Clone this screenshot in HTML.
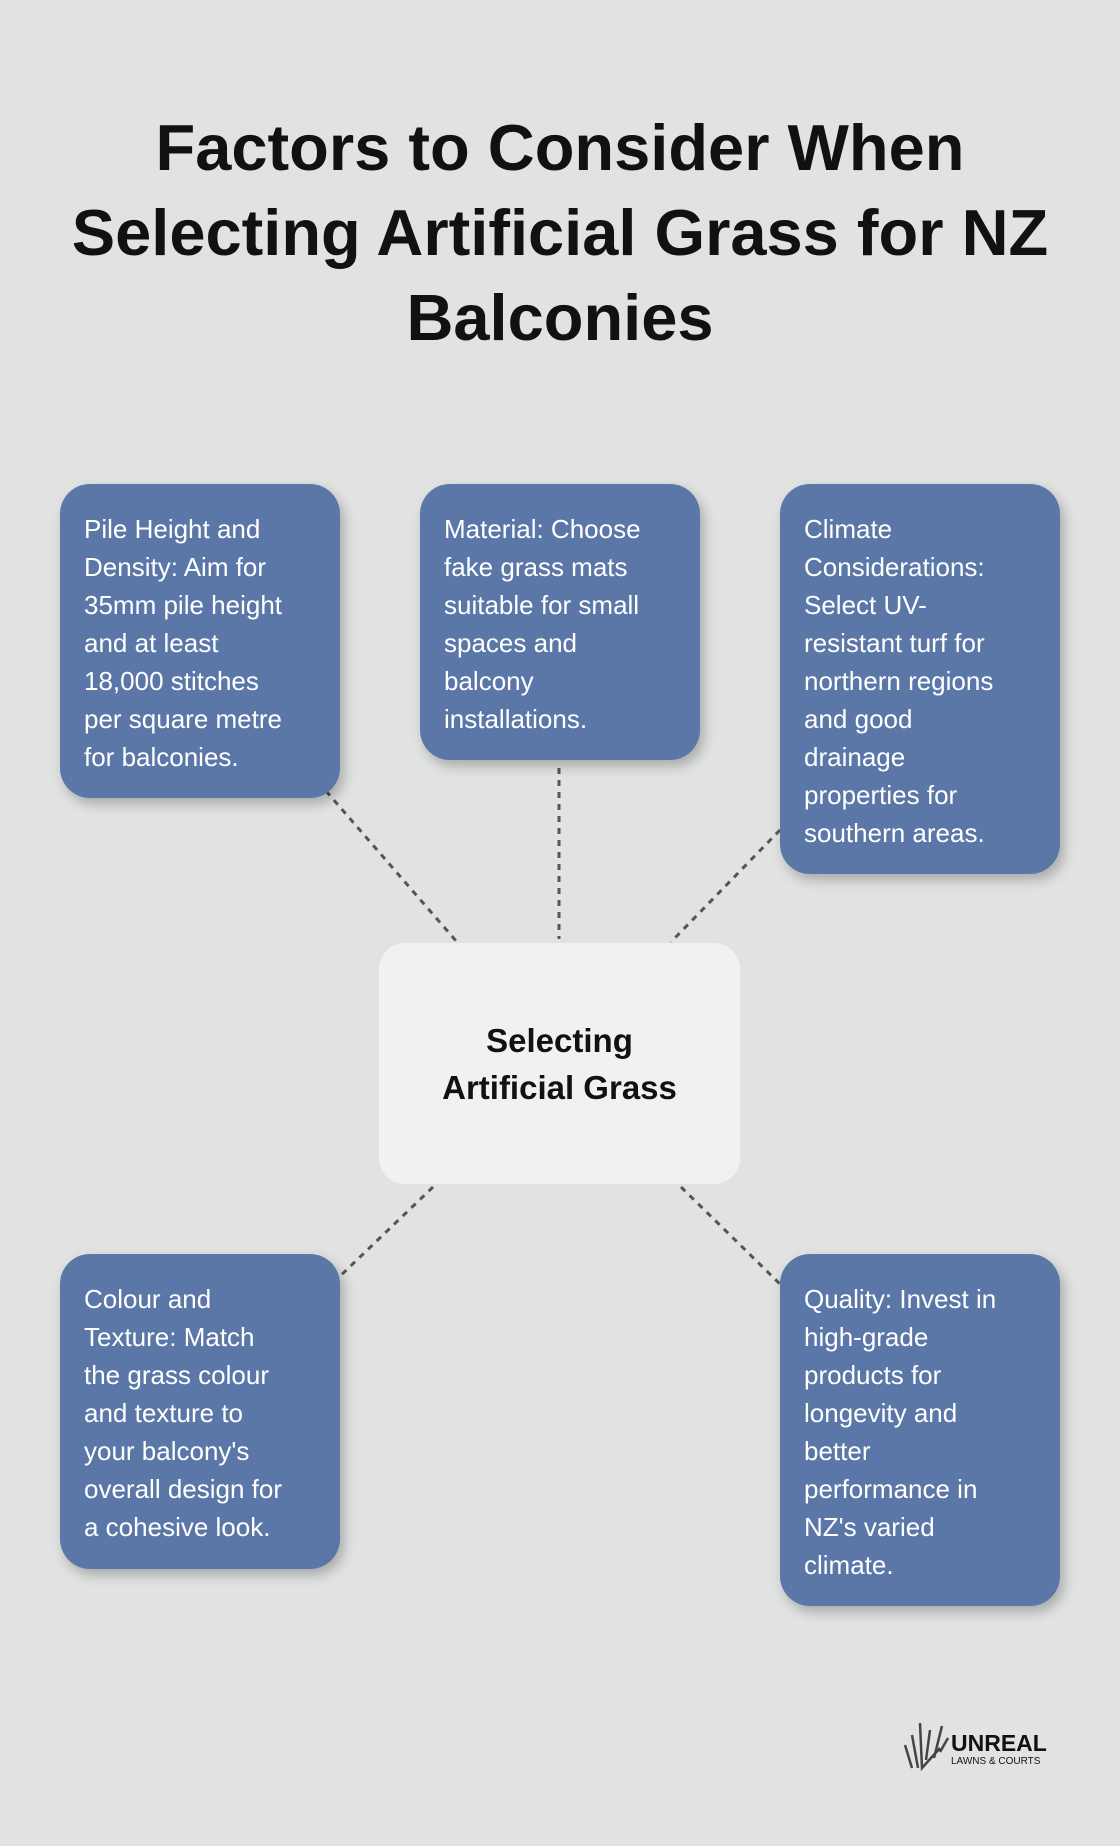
<!DOCTYPE html>
<html><head><meta charset="utf-8"><style>
body{margin:0;width:1120px;height:1846px;background:#e1e3e2;position:relative;overflow:hidden;font-family:"Liberation Sans",sans-serif}
.t{position:absolute;left:0;width:1120px;top:105px;text-align:center;font-weight:bold;font-size:65px;line-height:85px;color:#111}
.b{position:absolute;background:#5b77a8;border-radius:30px;color:#fff;font-size:26px;line-height:38px;padding:26px 0 0 24px;box-sizing:border-box;box-shadow:4px 6px 12px rgba(0,0,0,.25);width:280px}
.c{position:absolute;left:379px;top:943px;width:361px;height:241px;background:#f0f1f0;border-radius:26px;text-align:center;font-weight:bold;font-size:33px;line-height:47px;color:#111;box-sizing:border-box;padding-top:74px}
</style></head><body>
<div class="t">Factors to Consider When<br>Selecting Artificial Grass for NZ<br>Balconies</div>
<svg style="position:absolute;left:0;top:0" width="1120" height="1846"><g stroke="#555" stroke-width="3" stroke-dasharray="6,6">
<line x1="326" y1="791" x2="457" y2="942"/><line x1="559" y1="768" x2="559" y2="939"/><line x1="780" y1="830" x2="671" y2="942"/><line x1="433" y1="1187" x2="336" y2="1280"/><line x1="681" y1="1187" x2="780" y2="1284"/></g>
<g stroke="#444" stroke-width="2.5" fill="none"><path d="M905 1745 L912 1768"/><path d="M912 1735 L918 1768"/><path d="M920 1723 L922 1768 L940 1748"/><path d="M930 1730 L926 1760"/><path d="M942 1726 L934 1758"/><path d="M948 1738 L940 1752"/></g>
<text x="951" y="1751" font-family="Liberation Sans" font-weight="bold" font-size="23" fill="#111">UNREAL</text>
<text x="951" y="1764" font-family="Liberation Sans" font-size="10" fill="#111">LAWNS &amp; COURTS</text></svg>
<div class="b" style="left:60px;top:484px;height:314px">Pile Height and<br>Density: Aim for<br>35mm pile height<br>and at least<br>18,000 stitches<br>per square metre<br>for balconies.</div>
<div class="b" style="left:420px;top:484px;height:276px">Material: Choose<br>fake grass mats<br>suitable for small<br>spaces and<br>balcony<br>installations.</div>
<div class="b" style="left:780px;top:484px;height:390px">Climate<br>Considerations:<br>Select UV-<br>resistant turf for<br>northern regions<br>and good<br>drainage<br>properties for<br>southern areas.</div>
<div class="c">Selecting<br>Artificial Grass</div>
<div class="b" style="left:60px;top:1254px;height:315px">Colour and<br>Texture: Match<br>the grass colour<br>and texture to<br>your balcony's<br>overall design for<br>a cohesive look.</div>
<div class="b" style="left:780px;top:1254px;height:352px">Quality: Invest in<br>high-grade<br>products for<br>longevity and<br>better<br>performance in<br>NZ's varied<br>climate.</div>
</body></html>
